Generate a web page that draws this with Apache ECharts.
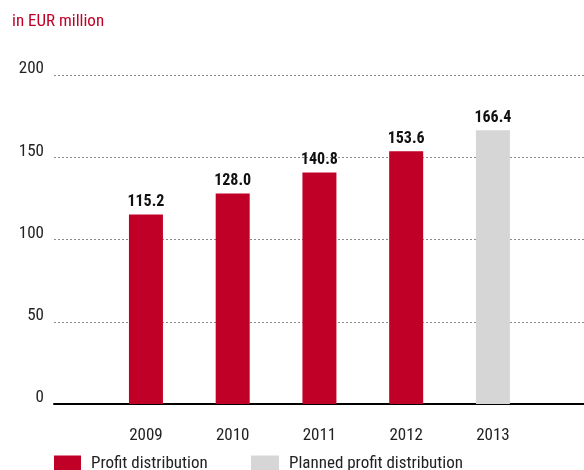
<!DOCTYPE html>
<html>
<head>
<meta charset="utf-8">
<script src="https://cdn.jsdelivr.net/npm/echarts@6/dist/echarts.min.js"></script>
<style>
  html, body { margin: 0; padding: 0; background: #fff; }
  #chart { width: 584px; height: 470px; }
</style>
</head>
<body>
<div id="chart"></div>
<script>
// Profit distribution, in EUR million
const years = [2009, 2010, 2011, 2012, 2013];
const profitDistribution = [115.2, 128.0, 140.8, 153.6, null];
const plannedDistribution = [null, null, null, null, 166.4];
const yTicks = [0, 50, 100, 150, 200];

const FONT = "'Liberation Sans Narrow', 'Roboto Condensed', Roboto, sans-serif";
const RED = '#C10028';
const GREY = '#D6D6D6';

function pairs(values) {
  return years
    .map((y, i) => [y, values[i]])
    .filter(p => p[1] !== null);
}

const valueLabel = {
  show: true,
  position: 'top',
  distance: 4,
  fontFamily: FONT,
  fontSize: 16,
  fontWeight: 'bold',
  color: '#111',
  formatter: p => p.value[1].toFixed(1)
};

const chart = echarts.init(document.getElementById('chart'), null, { renderer: 'canvas' });

chart.setOption({
  animation: false,
  title: {
    text: 'in EUR million',
    left: 8,
    top: 13,
    padding: [0, 0, 0, 4],
    textStyle: { fontFamily: FONT, fontSize: 17, fontWeight: 'normal', color: RED }
  },
  grid: { left: 54, right: 0, top: 75, bottom: 66, containLabel: false },
  legend: [
    {
      data: ['Profit distribution'],
      left: 54, top: 455, padding: 0,
      icon: 'rect', itemWidth: 27, itemHeight: 16,
      textStyle: { fontFamily: FONT, fontSize: 17, color: '#222', padding: [0, 0, 0, 5] }
    },
    {
      data: ['Planned profit distribution'],
      left: 251, top: 455, padding: 0,
      icon: 'rect', itemWidth: 28, itemHeight: 16,
      textStyle: { fontFamily: FONT, fontSize: 17, color: '#222', padding: [0, 0, 0, 5] }
    }
  ],
  xAxis: {
    type: 'value',
    min: 2007.94,
    max: 2014.05,
    axisLine: { show: true, lineStyle: { color: '#000', width: 2 } },
    axisTick: { show: false },
    splitLine: { show: false },
    axisLabel: {
      customValues: years,
      formatter: v => String(v),
      margin: 23,
      fontFamily: FONT, fontSize: 17, color: '#222'
    }
  },
  yAxis: {
    type: 'value',
    min: 0, max: 200, interval: 50,
    axisLine: { show: false },
    axisTick: { show: false },
    axisLabel: {
      customValues: yTicks,
      margin: 10,
      verticalAlign: 'bottom',
      lineHeight: 12,
      fontFamily: FONT, fontSize: 17, color: '#222'
    },
    splitLine: {
      show: true,
      lineStyle: { color: '#8a8a8a', width: 1, type: [2, 2] }
    }
  },
  series: [
    {
      name: 'Profit distribution',
      type: 'bar',
      barWidth: 34,
      barGap: '-100%',
      itemStyle: { color: RED },
      label: valueLabel,
      data: pairs(profitDistribution)
    },
    {
      name: 'Planned profit distribution',
      type: 'bar',
      barWidth: 34,
      barGap: '-100%',
      itemStyle: { color: GREY },
      label: valueLabel,
      data: pairs(plannedDistribution)
    }
  ]
});
</script>
</body>
</html>
